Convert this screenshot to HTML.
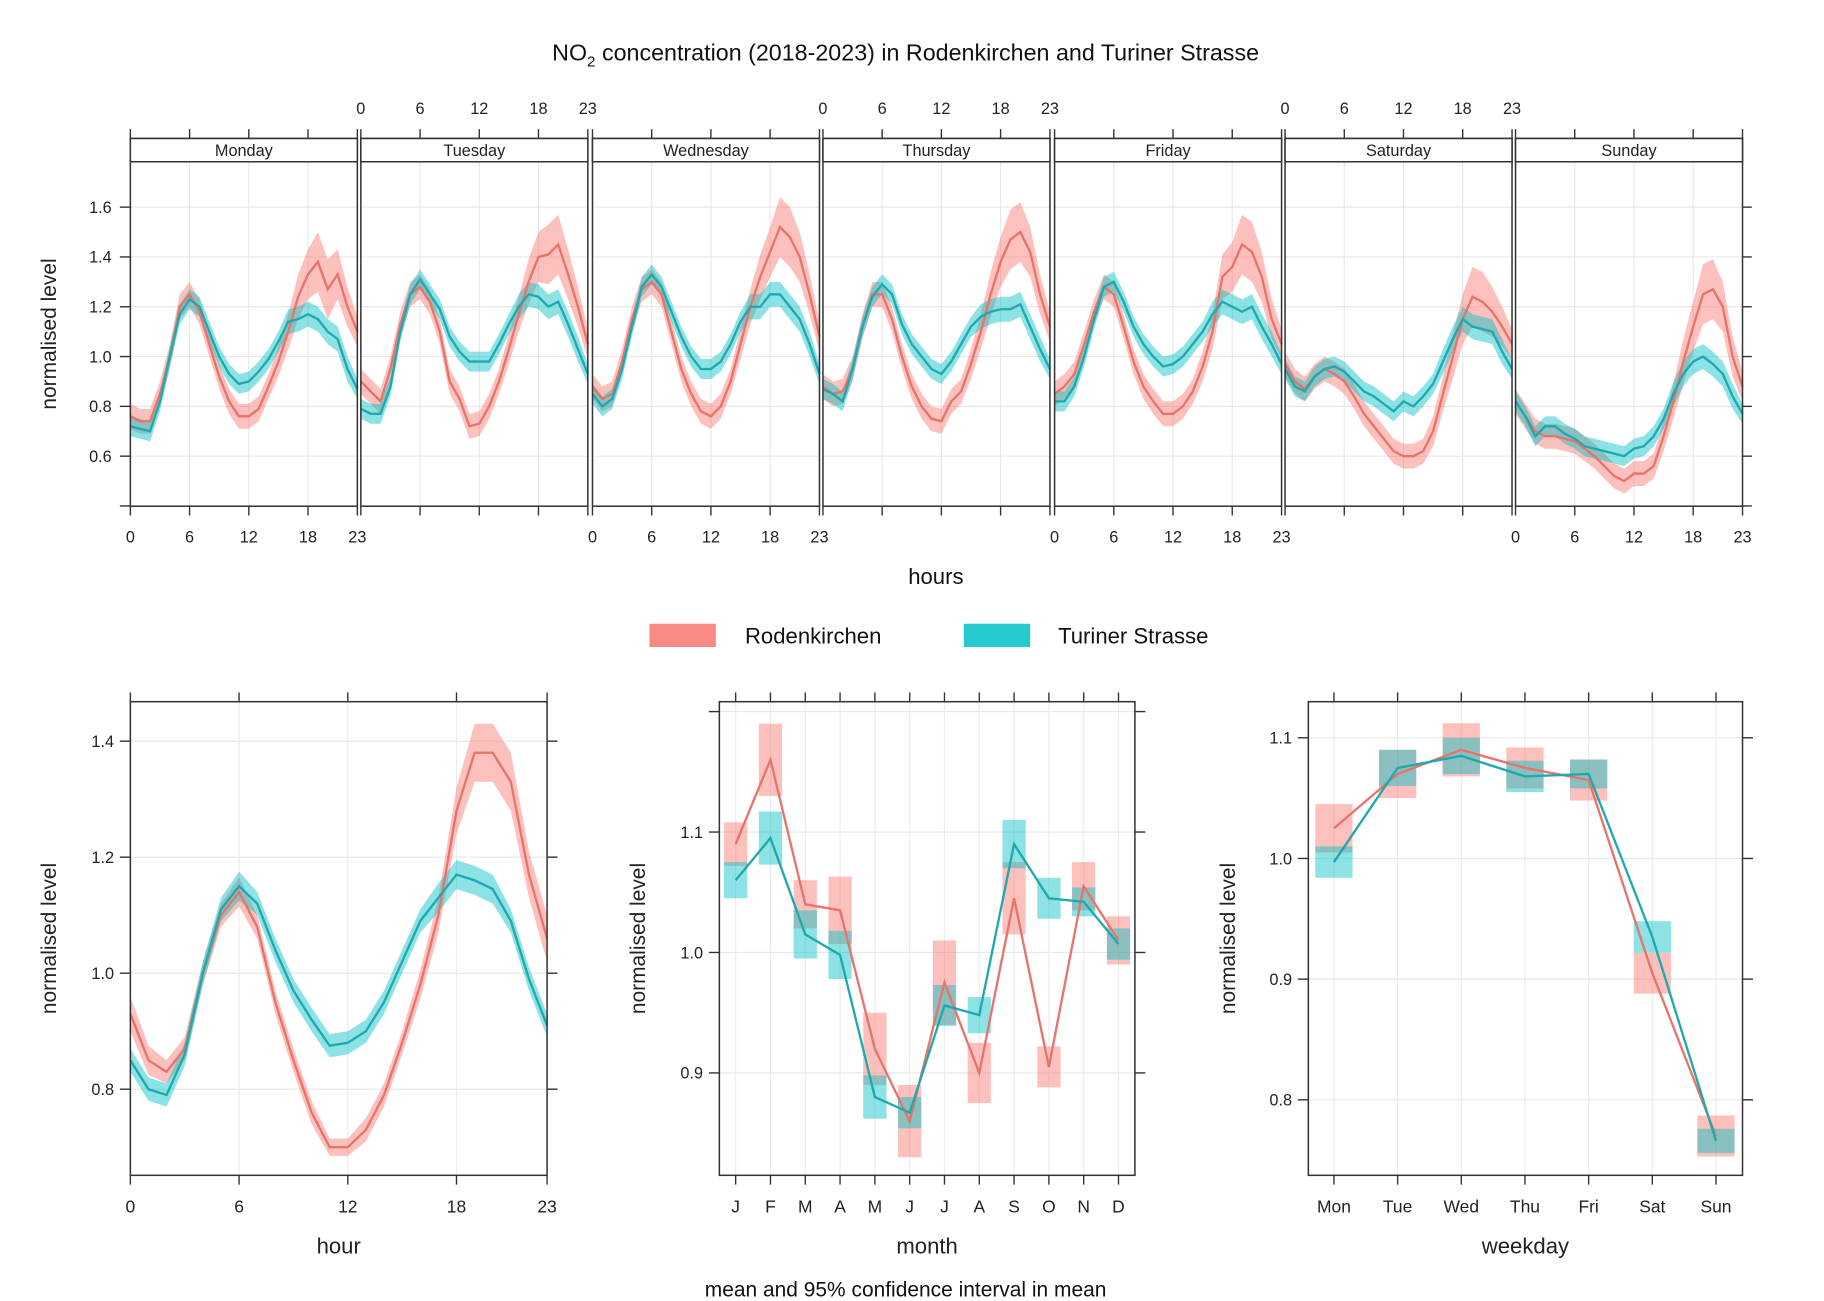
<!DOCTYPE html>
<html><head><meta charset="utf-8"><style>
html,body{margin:0;padding:0;background:#fff;}
svg{display:block;font-family:"Liberation Sans",sans-serif;}
</style></head><body>
<svg id="chart" width="1824" height="1301" viewBox="0 0 1567 1118" preserveAspectRatio="none" xmlns="http://www.w3.org/2000/svg">
<text x="778" y="52" text-anchor="middle" font-size="20" fill="#111">NO<tspan font-size="13" dy="5">2</tspan><tspan dy="-5"> concentration (2018-2023) in Rodenkirchen and Turiner Strasse</tspan></text>
<g>
<rect x="558" y="536" width="57" height="20" fill="#f8766d" fill-opacity="0.85"/>
<text x="640" y="553" font-size="19" fill="#111">Rodenkirchen</text>
<rect x="828" y="536" width="57" height="20" fill="#00bfc4" fill-opacity="0.85"/>
<text x="909" y="553" font-size="19" fill="#111">Turiner Strasse</text>
</g>
<text x="804" y="502" text-anchor="middle" font-size="19" fill="#111">hours</text>
<text x="778" y="1114" text-anchor="middle" font-size="18" fill="#111">mean and 95% confidence interval in mean</text>
<g id="layer"></g>
</svg>
<script>
const days = ["Monday","Tuesday","Wednesday","Thursday","Friday","Saturday","Sunday"];
const redDay = [
[0.76,0.74,0.74,0.85,1.0,1.2,1.25,1.18,1.05,0.92,0.82,0.76,0.76,0.79,0.88,0.98,1.1,1.24,1.33,1.38,1.27,1.33,1.2,1.1],
[0.9,0.86,0.82,0.95,1.13,1.25,1.28,1.22,1.1,0.9,0.83,0.72,0.73,0.8,0.9,1.03,1.17,1.3,1.4,1.41,1.45,1.33,1.2,1.05],
[0.88,0.83,0.85,0.98,1.15,1.27,1.3,1.25,1.1,0.95,0.85,0.78,0.76,0.8,0.9,1.05,1.2,1.32,1.42,1.52,1.48,1.4,1.25,1.08],
[0.88,0.85,0.86,0.95,1.12,1.25,1.25,1.15,1.0,0.88,0.8,0.75,0.74,0.82,0.86,0.97,1.1,1.25,1.38,1.47,1.5,1.42,1.25,1.12],
[0.85,0.88,0.93,1.05,1.18,1.28,1.25,1.12,0.98,0.88,0.82,0.77,0.77,0.8,0.86,0.96,1.1,1.32,1.36,1.45,1.42,1.32,1.15,1.05],
[0.97,0.9,0.87,0.92,0.95,0.93,0.9,0.84,0.77,0.72,0.67,0.62,0.6,0.6,0.62,0.7,0.85,1.0,1.15,1.24,1.22,1.18,1.12,1.05],
[0.82,0.76,0.7,0.68,0.68,0.67,0.66,0.63,0.6,0.56,0.52,0.5,0.53,0.53,0.56,0.68,0.82,0.98,1.12,1.25,1.27,1.2,1.0,0.88]];
const tealDay = [
[0.72,0.71,0.70,0.82,1.0,1.17,1.23,1.2,1.1,1.0,0.93,0.89,0.9,0.94,0.99,1.06,1.14,1.15,1.17,1.15,1.1,1.07,0.95,0.87],
[0.79,0.77,0.77,0.88,1.1,1.25,1.31,1.25,1.19,1.08,1.02,0.98,0.98,0.98,1.05,1.13,1.2,1.25,1.24,1.2,1.22,1.13,1.03,0.93],
[0.85,0.8,0.83,0.95,1.12,1.28,1.33,1.28,1.18,1.08,1.0,0.95,0.95,0.98,1.05,1.14,1.2,1.2,1.25,1.25,1.2,1.15,1.05,0.93],
[0.87,0.85,0.82,0.95,1.12,1.24,1.29,1.25,1.13,1.05,1.0,0.95,0.93,0.98,1.05,1.12,1.16,1.18,1.19,1.19,1.21,1.12,1.03,0.95],
[0.82,0.82,0.88,1.0,1.15,1.28,1.3,1.22,1.12,1.05,1.0,0.96,0.97,1.0,1.05,1.1,1.17,1.22,1.2,1.18,1.2,1.12,1.05,0.97],
[0.95,0.88,0.86,0.92,0.95,0.96,0.94,0.9,0.86,0.84,0.81,0.78,0.82,0.8,0.84,0.89,0.98,1.07,1.15,1.12,1.11,1.1,1.02,0.95],
[0.82,0.76,0.68,0.72,0.72,0.69,0.67,0.64,0.63,0.62,0.61,0.6,0.63,0.64,0.68,0.75,0.85,0.93,0.98,1.0,0.97,0.93,0.84,0.77]];
const redDayCI = [0.05,0.05,0.05,0.05,0.05,0.05,0.05,0.05,0.05,0.05,0.05,0.05,0.05,0.05,0.05,0.06,0.07,0.09,0.1,0.12,0.12,0.1,0.08,0.06];
const tealDayCI = [0.04,0.04,0.04,0.04,0.04,0.04,0.04,0.04,0.04,0.04,0.04,0.04,0.04,0.04,0.04,0.04,0.05,0.05,0.05,0.05,0.05,0.05,0.05,0.04];
const dayTicks = [0,6,12,18,23];
const topYTicks = [0.4,0.6,0.8,1.0,1.2,1.4,1.6];

const redHour = [0.93,0.85,0.83,0.87,1.0,1.1,1.14,1.08,0.95,0.85,0.76,0.7,0.7,0.73,0.79,0.88,0.98,1.1,1.28,1.38,1.38,1.33,1.17,1.06];
const tealHour = [0.85,0.80,0.79,0.86,1.0,1.11,1.15,1.12,1.04,0.97,0.92,0.875,0.88,0.9,0.95,1.02,1.09,1.13,1.17,1.16,1.145,1.09,0.99,0.91];
const redHourCI = [0.03,0.025,0.02,0.02,0.02,0.02,0.025,0.02,0.02,0.02,0.02,0.015,0.015,0.02,0.02,0.02,0.025,0.03,0.04,0.05,0.05,0.05,0.04,0.04];
const tealHourCI = [0.02,0.02,0.02,0.02,0.02,0.02,0.025,0.02,0.02,0.02,0.02,0.02,0.02,0.02,0.02,0.02,0.02,0.025,0.025,0.025,0.025,0.02,0.02,0.02];
const hourTicks = [0,6,12,18,23];
const hourYTicks = [0.8,1.0,1.2,1.4];

const months = ["J","F","M","A","M","J","J","A","S","O","N","D"];
const redMonth = [1.09,1.16,1.04,1.035,0.92,0.86,0.975,0.90,1.045,0.905,1.055,1.01];
const redMonthCI = [0.018,0.03,0.02,0.028,0.03,0.03,0.035,0.025,0.03,0.017,0.02,0.02];
const tealMonth = [1.06,1.095,1.015,0.998,0.88,0.867,0.956,0.948,1.09,1.045,1.042,1.007];
const tealMonthCI = [0.015,0.022,0.02,0.02,0.018,0.013,0.017,0.015,0.02,0.017,0.012,0.013];
const monthYTicks = [0.9,1.0,1.1,1.2];

const weekdays = ["Mon","Tue","Wed","Thu","Fri","Sat","Sun"];
const redWeek = [1.025,1.07,1.09,1.075,1.065,0.905,0.77];
const redWeekCI = [0.02,0.02,0.022,0.017,0.017,0.017,0.017];
const tealWeek = [0.997,1.075,1.085,1.068,1.07,0.935,0.766];
const tealWeekCI = [0.013,0.015,0.015,0.013,0.012,0.013,0.01];
const weekYTicks = [0.8,0.9,1.0,1.1];

const NS="http://www.w3.org/2000/svg";
const layer=document.getElementById('layer');
const RL="#e8736a", RB="rgba(248,118,109,0.45)", TL="#1fa9ae", TB="rgba(0,191,196,0.45)";
function mk(tag,attrs,parent){const e=document.createElementNS(NS,tag);for(const k in attrs)e.setAttribute(k,attrs[k]);(parent||layer).appendChild(e);return e;}
function line(x1,y1,x2,y2,st,w,p){return mk('line',{x1,y1,x2,y2,stroke:st,'stroke-width':w},p);}
function txt(x,y,s,size,anchor,p){const t=mk('text',{x,y,'font-size':size,'text-anchor':anchor||'middle',fill:'#222'},p);t.textContent=s;return t;}
function band(xf,yf,vals,ci,fill,p){let d='';vals.forEach((v,i)=>{d+=(i?'L':'M')+xf(i)+','+yf(v+ci[i]);});for(let i=vals.length-1;i>=0;i--)d+='L'+xf(i)+','+yf(vals[i]-ci[i]);return mk('path',{d:d+'Z',fill,stroke:'none'},p);}
function poly(xf,yf,vals,col,p){return mk('polyline',{points:vals.map((v,i)=>xf(i)+','+yf(v)).join(' '),fill:'none',stroke:col,'stroke-width':2},p);}

const lefts=[112,310,509,707,906,1104,1302], PW=195, PT=139, PB=435;
const yTop=v=>392-(v-0.6)*214;
days.forEach((d,k)=>{
  const g=mk('g',{});
  
  
  const L=lefts[k], xf=h=>L+h*(PW/23);
  topYTicks.forEach(v=>{if(v>0.45)line(L,yTop(v),L+PW,yTop(v),'#e8e8e8',1,g);});
  [6,12,18].forEach(h=>line(xf(h),PT,xf(h),PB,'#e8e8e8',1,g));
  const rb=band(xf,yTop,redDay[k],redDayCI,RB,g);
  
  
  const tb=band(xf,yTop,tealDay[k],tealDayCI,TB,g);
  
  
  const rl=poly(xf,yTop,redDay[k],RL,g);
  
  
  const tl=poly(xf,yTop,tealDay[k],TL,g);
  
  
  mk('rect',{x:L,y:119,width:PW,height:PB-119,fill:'none',stroke:'#333','stroke-width':1.3},g);
  const st=mk('rect',{x:L,y:119,width:PW,height:20,fill:'#fff',stroke:'#333','stroke-width':1.3},g);
  
  
  txt(L+PW/2,134,d,14,'middle',g);
  dayTicks.forEach(h=>{
    line(xf(h),111,xf(h),119,'#333',1.2,g);
    line(xf(h),PB,xf(h),PB+8,'#333',1.2,g);
    if(k%2===0) txt(xf(h),466,String(h),14,'middle',g);
    else txt(xf(h),98,String(h),14,'middle',g);
  });
});
topYTicks.forEach(v=>{
  line(103,yTop(v),112,yTop(v),'#333',1.2);
  line(1497,yTop(v),1505,yTop(v),'#333',1.2);
  if(v>0.45)txt(96,yTop(v)+5,v.toFixed(1),14,'end');
});
const yl1=txt(48,287,'normalised level',18,'middle');
yl1.setAttribute('transform','rotate(-90 48 287)');



function smallPanel(name,L,R,T,B,xf,yf,yticks,xlabels,xpos,xtitle,ytx,draw){
  const g=mk('g',{});
  
  
  yticks.forEach(v=>{const y=yf(v);if(y>T&&y<B)line(L,y,R,y,'#e8e8e8',1,g);});
  xpos.forEach(x=>line(x,T,x,B,'#ececec',1,g));
  draw(g);
  mk('rect',{x:L,y:T,width:R-L,height:B-T,fill:'none',stroke:'#333','stroke-width':1.3},g);
  yticks.forEach(v=>{const y=yf(v);if(y>=T-1&&y<=B){line(L-9,y,L,y,'#333',1.2,g);line(R,y,R+9,y,'#333',1.2,g);if(y>T+14)txt(L-14,y+5,v.toFixed(1),14,'end',g);}});
  xpos.forEach((x,i)=>{line(x,B,x,B+8,'#333',1.2,g);line(x,T-8,x,T,'#333',1.2,g);txt(x,B+32,xlabels[i],15,'middle',g);});
  txt((L+R)/2,B+67,xtitle,19,'middle',g);
  const yt=txt(ytx,(T+B)/2,'normalised level',18,'middle',g);
  yt.setAttribute('transform','rotate(-90 '+ytx+' '+(T+B)/2+')');
  return g;
}
const xH=h=>112+h*(358/23), yH=v=>936-(v-0.8)*498.5;
smallPanel('panel-hour',112,470,603,1010,xH,yH,hourYTicks,hourTicks.map(String),hourTicks.map(xH),'hour',48,g=>{
  const a=band(xH,yH,redHour,redHourCI,RB,g);
  
  
  const b=band(xH,yH,tealHour,tealHourCI,TB,g);
  
  
  const c=poly(xH,yH,redHour,RL,g);
  
  
  const e=poly(xH,yH,tealHour,TL,g);
  
  
});
function boxes(xf,yf,vals,ci,fill,w,g,nm){vals.forEach((v,i)=>{const r=mk('rect',{x:xf(i)-w/2,y:yf(v+ci[i]),width:w,height:yf(v-ci[i])-yf(v+ci[i]),fill},g);
  
  });}
const xM=i=>632+i*29.9, yM=v=>715-(v-1.1)*1035;
smallPanel('panel-month',618,975,603,1010,xM,yM,monthYTicks,months,months.map((m,i)=>xM(i)),'month',554,g=>{
  boxes(xM,yM,redMonth,redMonthCI,RB,20,g,'rodenkirchen-month');
  boxes(xM,yM,tealMonth,tealMonthCI,TB,20,g,'turiner-month');
  const c=poly(xM,yM,redMonth,RL,g);
  
  
  const e=poly(xM,yM,tealMonth,TL,g);
  
  
});
const xW=i=>1146+i*54.7, yW=v=>634-(v-1.1)*1037;
smallPanel('panel-weekday',1124,1497,603,1010,xW,yW,weekYTicks,weekdays,weekdays.map((d,i)=>xW(i)),'weekday',1061,g=>{
  boxes(xW,yW,redWeek,redWeekCI,RB,32,g,'rodenkirchen-weekday');
  boxes(xW,yW,tealWeek,tealWeekCI,TB,32,g,'turiner-weekday');
  const c=poly(xW,yW,redWeek,RL,g);
  
  
  const e=poly(xW,yW,tealWeek,TL,g);
  
  
});
</script>
</body></html>
